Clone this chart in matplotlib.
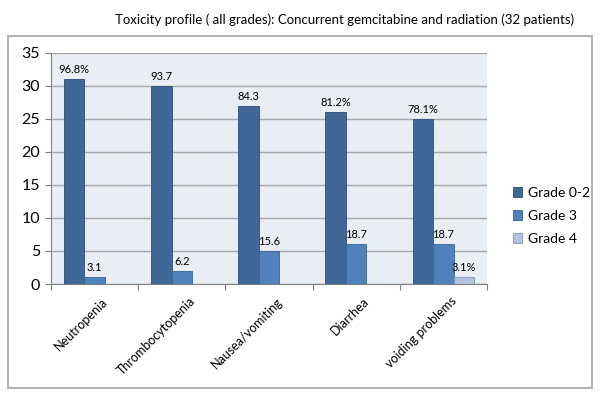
import numpy as np
import matplotlib.pyplot as plt
from matplotlib.patches import Rectangle

plt.rcParams['font.family'] = ['Lato', 'DejaVu Sans']

# Данные
categories = ['Neutropenia', 'Thrombocytopenia', 'Nausea/vomiting', 'Diarrhea', 'voiding problems']
series = ['Grade 0-2', 'Grade 3', 'Grade 4']
grade02 = [31, 30, 27, 26, 25]
grade3 = [1, 2, 5, 6, 6]
grade4 = [0, 0, 0, 0, 1]
labels02 = ['96.8%', '93.7', '84.3', '81.2%', '78.1%']
labels3 = ['3.1', '6.2', '15.6', '18.7', '18.7']
labels4 = ['', '', '', '', '3.1%']

colors = ['#3F6797', '#4F81BD', '#B3C3DF']
edges = ['#2E4D73', '#3A6597', '#7F95BB']

fig = plt.figure(figsize=(6, 3.96), dpi=100)
fig.patches.append(Rectangle((8 / 600, 1 - 388 / 396), 584 / 600, 352 / 396,
                             transform=fig.transFigure, fill=False,
                             edgecolor='#A6A6A6', linewidth=1.2))
ax = fig.add_axes([51 / 600, 1 - 284 / 396, 436 / 600, 231 / 396])
ax.set_facecolor('#E9EDF4')

x = np.arange(len(categories))
w = 0.235
for j, (vals, labs) in enumerate(zip([grade02, grade3, grade4], [labels02, labels3, labels4])):
    pos = x + (j - 1) * w
    bars = ax.bar(pos, vals, w, color=colors[j], edgecolor=edges[j], linewidth=0.6,
                  label=series[j], zorder=3)
    for b, lab in zip(bars, labs):
        if lab:
            ax.text(b.get_x() + b.get_width() / 2, b.get_height() + 0.6, lab,
                    ha='center', va='bottom', fontsize=8, zorder=4)

ax.set_ylim(0, 35)
ax.set_xlim(-0.5, len(categories) - 0.5)
ax.set_yticks(range(0, 36, 5))
ax.yaxis.grid(True, color='#A6A6A6', linewidth=1)
ax.set_axisbelow(True)
ax.tick_params(axis='y', labelsize=11.5, length=4, color='#808080', pad=4)

ax.set_xticks(np.arange(-0.5, len(categories) + 0.5, 1))
ax.set_xticklabels([])
ax.tick_params(axis='x', length=4, color='#808080')
ax.set_xticks(x + 0.08, minor=True)
ax.set_xticklabels(categories, minor=True, rotation=45, ha='right',
                   rotation_mode='anchor', fontsize=9)
ax.tick_params(axis='x', which='minor', length=0, pad=8)

for s in ['top', 'right']:
    ax.spines[s].set_visible(False)
for s in ['left', 'bottom']:
    ax.spines[s].set_color('#808080')

fig.text(0.575, 1 - 20 / 396, 'Toxicity profile ( all grades): Concurrent gemcitabine and radiation (32 patients)',
         ha='center', va='center', fontsize=9.5)

ax.legend(loc='center left', bbox_to_anchor=(1.03, 0.295), frameon=False, fontsize=10,
          handlelength=0.7, handleheight=0.7, handletextpad=0.4, labelspacing=0.8)

plt.savefig('out.png', dpi=100)
